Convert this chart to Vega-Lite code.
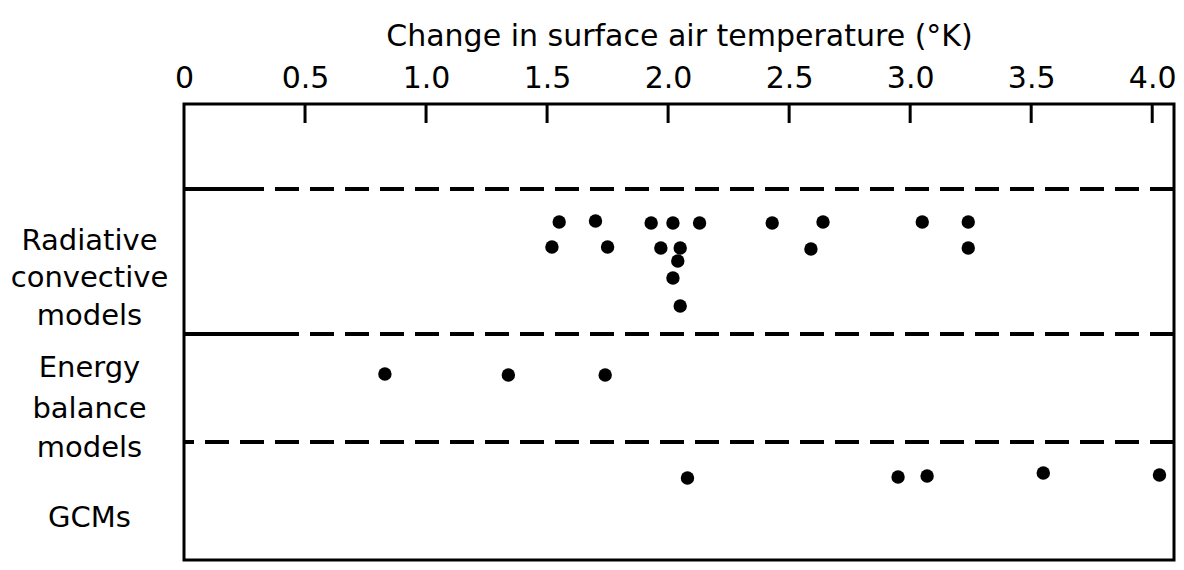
{
  "$schema": "https://vega.github.io/schema/vega-lite/v6.json",
  "width": 990,
  "height": 456,
  "autosize": {"type": "none"},
  "padding": {"left": 184, "top": 104, "right": 10, "bottom": 10},
  "background": "white",
  "config": {
    "view": {"stroke": "black", "strokeWidth": 3},
    "font": "DejaVu Sans"
  },
  "datasets": {
    "points": [
      {"group": "Radiative convective", "dT": 1.55, "pos": 118},
      {"group": "Radiative convective", "dT": 1.70, "pos": 117},
      {"group": "Radiative convective", "dT": 1.93, "pos": 119},
      {"group": "Radiative convective", "dT": 2.02, "pos": 119},
      {"group": "Radiative convective", "dT": 2.13, "pos": 119},
      {"group": "Radiative convective", "dT": 2.43, "pos": 119},
      {"group": "Radiative convective", "dT": 2.64, "pos": 118},
      {"group": "Radiative convective", "dT": 3.05, "pos": 118},
      {"group": "Radiative convective", "dT": 3.24, "pos": 118},
      {"group": "Radiative convective", "dT": 1.52, "pos": 143},
      {"group": "Radiative convective", "dT": 1.75, "pos": 143},
      {"group": "Radiative convective", "dT": 1.97, "pos": 144},
      {"group": "Radiative convective", "dT": 2.05, "pos": 144},
      {"group": "Radiative convective", "dT": 2.59, "pos": 145},
      {"group": "Radiative convective", "dT": 3.24, "pos": 144},
      {"group": "Radiative convective", "dT": 2.04, "pos": 157},
      {"group": "Radiative convective", "dT": 2.02, "pos": 174},
      {"group": "Radiative convective", "dT": 2.05, "pos": 202},
      {"group": "Energy balance", "dT": 0.83, "pos": 270},
      {"group": "Energy balance", "dT": 1.34, "pos": 271},
      {"group": "Energy balance", "dT": 1.74, "pos": 271},
      {"group": "GCM", "dT": 2.08, "pos": 374},
      {"group": "GCM", "dT": 2.95, "pos": 373},
      {"group": "GCM", "dT": 3.07, "pos": 372},
      {"group": "GCM", "dT": 3.55, "pos": 369},
      {"group": "GCM", "dT": 4.03, "pos": 371}
    ],
    "dividers": [
      {"pos": 85},
      {"pos": 230},
      {"pos": 338}
    ],
    "solid": [
      {"dT": 0, "dTend": 0.31, "pos": 85},
      {"dT": 0, "dTend": 0.43, "pos": 230}
    ],
    "ticks": [
      {"dT": 0.5}, {"dT": 1.0}, {"dT": 1.5}, {"dT": 2.0},
      {"dT": 2.5}, {"dT": 3.0}, {"dT": 3.5}, {"dT": 4.0}
    ]
  },
  "layer": [
    {
      "data": {"name": "points"},
      "mark": {"type": "circle", "size": 180, "color": "black", "opacity": 1},
      "encoding": {
        "x": {
          "field": "dT",
          "type": "quantitative",
          "scale": {"domain": [0, 4.09], "nice": false, "zero": false},
          "axis": {
            "orient": "top",
            "values": [0, 0.5, 1, 1.5, 2, 2.5, 3, 3.5, 4],
            "labelExpr": "datum.value == 0 ? '0' : format(datum.value, '.1f')",
            "ticks": false,
            "domain": false,
            "grid": false,
            "labelFontSize": 30,
            "labelColor": "black",
            "labelPadding": 11,
            "labelFlush": false,
            "labelOverlap": false,
            "title": "Change in surface air temperature (°K)",
            "titleFontSize": 30,
            "titleFontWeight": "normal",
            "titleColor": "black",
            "titlePadding": 12
          }
        },
        "y": {
          "field": "pos",
          "type": "quantitative",
          "scale": {"domain": [0, 456], "nice": false, "zero": false, "reverse": true},
          "axis": {
            "values": [136, 173, 211, 263, 304, 343, 413],
            "labelExpr": "datum.value == 136 ? 'Radiative' : datum.value == 173 ? 'convective' : datum.value == 211 ? 'models' : datum.value == 263 ? 'Energy' : datum.value == 304 ? 'balance' : datum.value == 343 ? 'models' : 'GCMs'",
            "ticks": false,
            "domain": false,
            "grid": false,
            "labelAlign": "center",
            "labelBaseline": "middle",
            "labelPadding": 95,
            "labelFontSize": 29,
            "labelColor": "black",
            "labelOverlap": false,
            "labelBound": false,
            "title": ""
          }
        }
      }
    },
    {
      "data": {"name": "dividers"},
      "mark": {"type": "rule", "strokeDash": [24, 11], "strokeWidth": 4, "color": "black"},
      "encoding": {
        "y": {"field": "pos", "type": "quantitative"}
      }
    },
    {
      "data": {"name": "solid"},
      "mark": {"type": "rule", "strokeWidth": 4, "color": "black"},
      "encoding": {
        "x": {"field": "dT", "type": "quantitative"},
        "x2": {"field": "dTend"},
        "y": {"field": "pos", "type": "quantitative"}
      }
    },
    {
      "data": {"name": "ticks"},
      "mark": {"type": "rule", "strokeWidth": 3, "color": "black"},
      "encoding": {
        "x": {"field": "dT", "type": "quantitative"},
        "y": {"datum": 0, "type": "quantitative"},
        "y2": {"datum": 19}
      }
    }
  ]
}
